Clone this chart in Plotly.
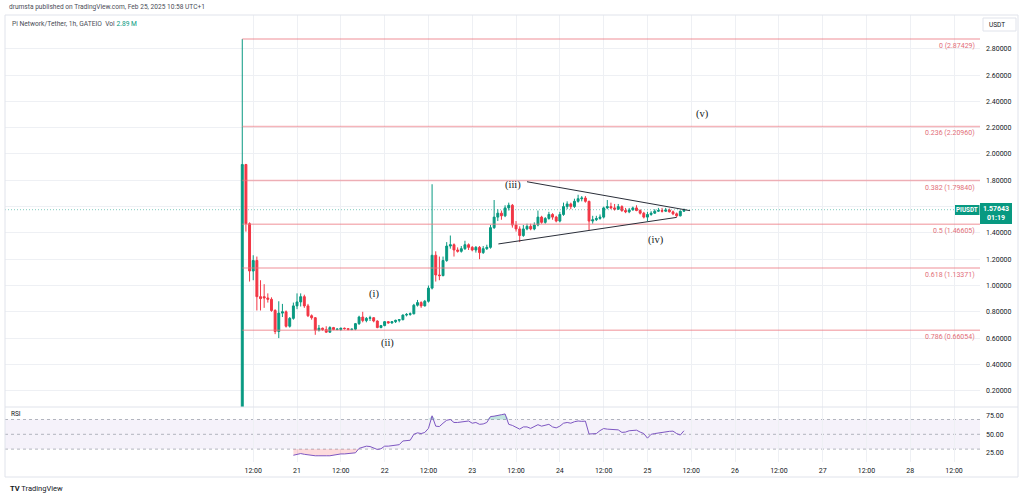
import pandas as pd
import plotly.graph_objects as go

# ---------------- data ----------------
first_bar = "2025-02-20 09:00"   # 1h candles, UTC+1
opens = [0.06, 1.92, 1.47, 1.11, 1.19, 0.915, 0.915, 0.905, 0.895, 0.81,
         0.65, 0.79, 0.80, 0.69, 0.75, 0.845, 0.875, 0.915, 0.845, 0.77,
         0.755, 0.66, 0.675, 0.665, 0.645, 0.68, 0.665, 0.665, 0.675, 0.672,
         0.665, 0.668, 0.71, 0.76, 0.733, 0.75, 0.755, 0.73, 0.68, 0.695,
         0.725, 0.715, 0.725, 0.735, 0.74, 0.775, 0.78, 0.785, 0.85, 0.87,
         0.845, 0.88, 0.98, 1.23, 1.08, 1.075, 1.19, 1.30, 1.31, 1.27,
         1.26, 1.28, 1.31, 1.29, 1.27, 1.29, 1.25, 1.28, 1.29, 1.44,
         1.52, 1.55, 1.53, 1.59, 1.61, 1.46, 1.43, 1.38, 1.43, 1.45,
         1.43, 1.46, 1.52, 1.48, 1.51, 1.54, 1.52, 1.49, 1.54, 1.60,
         1.62, 1.60, 1.64, 1.66, 1.665, 1.64, 1.49, 1.50, 1.51, 1.52,
         1.59, 1.60, 1.59, 1.58, 1.60, 1.57, 1.56, 1.575, 1.59, 1.57,
         1.55, 1.52, 1.54, 1.55, 1.565, 1.57, 1.565, 1.575, 1.56, 1.545,
         1.53, 1.565]
highs = [2.874, 1.925, 1.48, 1.23, 1.22, 1.04, 1.01, 0.94, 0.91, 0.82,
         0.88, 0.86, 0.81, 0.76, 0.87, 0.94, 0.94, 0.93, 0.86, 0.78,
         0.76, 0.70, 0.68, 0.69, 0.69, 0.685, 0.675, 0.68, 0.68, 0.675,
         0.672, 0.715, 0.77, 0.80, 0.76, 0.77, 0.76, 0.735, 0.70, 0.73,
         0.73, 0.73, 0.74, 0.745, 0.78, 0.79, 0.795, 0.86, 0.89, 0.88,
         0.89, 1.00, 1.77, 1.26, 1.22, 1.22, 1.33, 1.38, 1.32, 1.29,
         1.30, 1.34, 1.32, 1.30, 1.30, 1.30, 1.30, 1.31, 1.46, 1.65,
         1.58, 1.57, 1.61, 1.63, 1.62, 1.49, 1.45, 1.46, 1.47, 1.47,
         1.48, 1.57, 1.53, 1.52, 1.56, 1.55, 1.53, 1.56, 1.63, 1.64,
         1.63, 1.66, 1.69, 1.68, 1.68, 1.645, 1.53, 1.53, 1.54, 1.60,
         1.65, 1.63, 1.62, 1.62, 1.61, 1.59, 1.59, 1.60, 1.61, 1.58,
         1.56, 1.56, 1.565, 1.58, 1.59, 1.59, 1.59, 1.585, 1.57, 1.555,
         1.57, 1.585]
lows = [0.0578, 1.41, 1.03, 1.04, 0.81, 0.81, 0.83, 0.87, 0.80, 0.63,
        0.60, 0.76, 0.68, 0.68, 0.74, 0.82, 0.84, 0.83, 0.76, 0.74,
        0.625, 0.65, 0.655, 0.64, 0.64, 0.66, 0.66, 0.655, 0.665, 0.66,
        0.66, 0.66, 0.70, 0.72, 0.72, 0.73, 0.72, 0.675, 0.675, 0.69,
        0.71, 0.71, 0.715, 0.72, 0.735, 0.765, 0.77, 0.78, 0.84, 0.83,
        0.84, 0.87, 0.97, 1.03, 1.04, 1.07, 1.18, 1.28, 1.22, 1.25,
        1.25, 1.27, 1.27, 1.26, 1.25, 1.20, 1.24, 1.27, 1.28, 1.43,
        1.49, 1.50, 1.52, 1.57, 1.44, 1.41, 1.33, 1.37, 1.42, 1.42,
        1.42, 1.45, 1.47, 1.47, 1.50, 1.50, 1.48, 1.48, 1.53, 1.58,
        1.58, 1.59, 1.63, 1.64, 1.63, 1.42, 1.47, 1.49, 1.50, 1.51,
        1.58, 1.58, 1.57, 1.575, 1.56, 1.55, 1.55, 1.57, 1.565, 1.54,
        1.51, 1.49, 1.53, 1.545, 1.56, 1.555, 1.56, 1.555, 1.535, 1.52,
        1.525, 1.56]
closes = [1.92, 1.47, 1.11, 1.19, 0.915, 0.90, 0.905, 0.895, 0.81, 0.65,
          0.79, 0.80, 0.69, 0.75, 0.845, 0.875, 0.915, 0.845, 0.77, 0.755,
          0.66, 0.675, 0.665, 0.645, 0.68, 0.665, 0.668, 0.675, 0.672, 0.665,
          0.668, 0.71, 0.76, 0.733, 0.75, 0.755, 0.73, 0.68, 0.695, 0.725,
          0.715, 0.725, 0.735, 0.74, 0.775, 0.78, 0.785, 0.85, 0.87, 0.845,
          0.88, 0.98, 1.23, 1.08, 1.075, 1.19, 1.30, 1.31, 1.27, 1.26,
          1.28, 1.31, 1.29, 1.27, 1.29, 1.25, 1.28, 1.29, 1.44, 1.52,
          1.55, 1.53, 1.59, 1.61, 1.46, 1.43, 1.38, 1.43, 1.45, 1.43,
          1.46, 1.52, 1.48, 1.51, 1.54, 1.52, 1.49, 1.54, 1.60, 1.62,
          1.60, 1.64, 1.66, 1.665, 1.64, 1.49, 1.50, 1.51, 1.52, 1.59,
          1.60, 1.59, 1.58, 1.60, 1.57, 1.56, 1.575, 1.59, 1.57, 1.55,
          1.52, 1.54, 1.55, 1.565, 1.57, 1.565, 1.575, 1.56, 1.545, 1.53,
          1.565, 1.57643]

rsi_first = "2025-02-20 23:00"
rsi_values = [21.7, 23, 24, 23, 22, 21.5, 21, 21, 20.5, 21,
              21, 22, 22.5, 23.5, 23.5, 24, 24.5, 25, 31, 33,
              34, 33.5, 32, 29.5, 30.5, 34, 34, 35, 36, 36,
              41, 42, 42, 50, 52, 51, 52.5, 58, 75, 61,
              60.5, 65, 69, 70, 66, 66, 66.5, 67.5, 68, 65,
              66, 63.5, 64, 66, 74, 74.5, 75, 76.5, 77.5, 63.5,
              62, 60, 57, 60, 60, 58, 60, 63, 61, 62,
              63.5, 60, 58.7, 61, 65, 66, 65, 67, 68, 67.5,
              67.8, 50.4, 51, 51, 55, 57.8, 57, 56.5, 56.5, 56,
              52.6, 53, 54.8, 55.5, 55.6, 53, 51, 44.8, 50, 51,
              52, 52.6, 53.5, 54, 54.3, 51, 49, 54.8]

fib_ratios = ["0", "0.236", "0.382", "0.5", "0.618", "0.786"]
fib_prices = [2.87429, 2.20960, 1.79840, 1.46605, 1.13371, 0.66054]
fib_start = "2025-02-20 09:00"

last_price = 1.57643
price_ticks = [0.2, 0.4, 0.6, 0.8, 1.0, 1.2, 1.4, 1.6, 1.8, 2.0, 2.2, 2.4, 2.6, 2.8]
price_tick_labels = ["0.20000", "0.40000", "0.60000", "0.80000", "1.00000", "1.20000",
                     "1.40000", "", "1.80000", "2.00000", "2.20000", "2.40000",
                     "2.60000", "2.80000"]   # 1.60000 sits under the price tag
rsi_ticks = [25, 50, 75]
rsi_levels = [30, 50, 70]
time_tick_labels = ["12:00", "21", "12:00", "22", "12:00", "23", "12:00", "24",
                    "12:00", "25", "12:00", "26", "12:00", "27", "12:00", "28", "12:00"]

tri_upper_t = ["2025-02-23 15:00", "2025-02-25 11:40"]
tri_upper_p = [1.789, 1.569]
tri_lower_t = ["2025-02-23 07:10", "2025-02-25 08:00"]
tri_lower_p = [1.316, 1.518]

wave_labels = ["(i)", "(ii)", "(iii)", "(iv)", "(v)"]
wave_times = ["2025-02-21 21:06", "2025-02-22 00:54", "2025-02-23 11:12",
              "2025-02-25 02:18", "2025-02-25 15:12"]
wave_prices = [0.935, 0.565, 1.764, 1.346, 2.304]

# ---------------- styling / geometry ----------------
W, H = 1024, 497
GREEN = "#089981"
RED = "#F23645"
FIB = "rgba(236,120,130,0.55)"
FIBTXT = "rgb(226,110,120)"
GRID = "#eef0f4"
TXT = "#131722"
FONT = "Roboto"

def px(x):
    return x / W

def py(y):
    return 1 - y / H

t0 = pd.Timestamp("2025-02-20 00:00")
x_range = [t0 + pd.Timedelta(hours=-56.0), t0 + pd.Timedelta(hours=211.1)]
main_dom = [py(407), py(15)]
rsi_dom = [py(462), py(407)]

times = pd.date_range(first_bar, periods=len(opens), freq="h")
rsi_times = pd.date_range(rsi_first, periods=len(rsi_values), freq="h")
tick_times = pd.date_range("2025-02-20 12:00", periods=len(time_tick_labels), freq="12h")

fig = go.Figure()

# fibonacci levels
for r, p in zip(fib_ratios, fib_prices):
    fig.add_trace(go.Scatter(x=[pd.Timestamp(fib_start), x_range[1]], y=[p, p], mode="lines",
                             line=dict(color=FIB, width=1.5), hoverinfo="skip",
                             showlegend=False, xaxis="x", yaxis="y"))

# last price dotted line
fig.add_trace(go.Scatter(x=x_range, y=[last_price, last_price], mode="lines",
                         line=dict(color="rgba(8,153,129,0.5)", width=1, dash="1px,2px"),
                         hoverinfo="skip", showlegend=False, xaxis="x", yaxis="y"))

# candles
fig.add_trace(go.Candlestick(
    x=times, open=opens, high=highs, low=lows, close=closes,
    increasing=dict(line=dict(color=GREEN, width=1), fillcolor=GREEN),
    decreasing=dict(line=dict(color=RED, width=1), fillcolor=RED),
    whiskerwidth=0, hoverinfo="skip", showlegend=False, xaxis="x", yaxis="y"))

# triangle
for tx, tp in [(tri_upper_t, tri_upper_p), (tri_lower_t, tri_lower_p)]:
    fig.add_trace(go.Scatter(x=tx, y=tp, mode="lines", line=dict(color="#2a2e39", width=1),
                             hoverinfo="skip", showlegend=False, xaxis="x", yaxis="y"))

# RSI fills
ob = [max(v, 70) for v in rsi_values]
os_ = [min(v, 30) for v in rsi_values]
fig.add_trace(go.Scatter(x=rsi_times, y=[70] * len(rsi_values), mode="lines", line=dict(width=0),
                         hoverinfo="skip", showlegend=False, xaxis="x", yaxis="y2"))
fig.add_trace(go.Scatter(x=rsi_times, y=ob, mode="lines", line=dict(width=0), fill="tonexty",
                         fillcolor="rgba(8,153,129,0.25)", hoverinfo="skip", showlegend=False,
                         xaxis="x", yaxis="y2"))
fig.add_trace(go.Scatter(x=rsi_times, y=[30] * len(rsi_values), mode="lines", line=dict(width=0),
                         hoverinfo="skip", showlegend=False, xaxis="x", yaxis="y2"))
fig.add_trace(go.Scatter(x=rsi_times, y=os_, mode="lines", line=dict(width=0), fill="tonexty",
                         fillcolor="rgba(242,54,69,0.18)", hoverinfo="skip", showlegend=False,
                         xaxis="x", yaxis="y2"))
fig.add_trace(go.Scatter(x=rsi_times, y=rsi_values, mode="lines",
                         line=dict(color="#7E57C2", width=1), hoverinfo="skip",
                         showlegend=False, xaxis="x", yaxis="y2"))

shapes = []
# RSI band
shapes.append(dict(type="rect", xref="x domain", yref="y2", x0=0, x1=1, y0=30, y1=70,
                   fillcolor="rgba(126,87,194,0.08)", line=dict(width=0), layer="below"))
for lv in rsi_levels:
    shapes.append(dict(type="line", xref="x domain", yref="y2", x0=0, x1=1, y0=lv, y1=lv,
                       line=dict(color="#b2b5be", width=1, dash="3px,3px"), layer="below"))
# pane separator and frame
shapes.append(dict(type="line", xref="paper", yref="paper", x0=px(5), x1=px(1018),
                   y0=py(407), y1=py(407), line=dict(color="#e0e3eb", width=1)))
shapes.append(dict(type="rect", xref="paper", yref="paper", x0=px(5), x1=px(1018),
                   y0=py(477), y1=py(15), line=dict(color="#e0e3eb", width=1)))
# USDT box
shapes.append(dict(type="rect", xref="paper", yref="paper", x0=px(983), x1=px(1016),
                   y0=py(31), y1=py(18), line=dict(color="#e0e3eb", width=1), fillcolor="white"))
# price tags
shapes.append(dict(type="rect", xref="paper", yref="paper", x0=px(955), x1=px(979.5),
                   y0=py(215), y1=py(205), line=dict(width=0), fillcolor=GREEN))
shapes.append(dict(type="rect", xref="paper", yref="paper", x0=px(980), x1=px(1012),
                   y0=py(224), y1=py(203), line=dict(width=0), fillcolor=GREEN))

ann = []
for r, p in zip(fib_ratios, fib_prices):
    ann.append(dict(xref="paper", yref="y", x=px(977), y=p, yshift=-7, xanchor="right",
                    yanchor="middle", text=f"{r} ({p:.5f})", showarrow=False,
                    font=dict(family=FONT, size=7, color=FIBTXT)))
for lab, tt, pp in zip(wave_labels, wave_times, wave_prices):
    ann.append(dict(xref="x", yref="y", x=tt, y=pp, text=lab, showarrow=False,
                    xanchor="center", yanchor="middle",
                    font=dict(family="Liberation Serif", size=10.5, color=TXT)))
ann.append(dict(xref="paper", yref="paper", x=px(7), y=py(7), xanchor="left", yanchor="middle",
                text="drumsta published on TradingView.com, Feb 25, 2025 10:58 UTC+1",
                showarrow=False, font=dict(family=FONT, size=6.6, color="#4a4d57")))
ann.append(dict(xref="paper", yref="paper", x=px(10), y=py(24), xanchor="left", yanchor="middle",
                text="Pi Network/Tether, 1h, GATEIO  Vol <span style='color:#089981'>2.89 M</span>",
                showarrow=False, font=dict(family=FONT, size=6.7, color="#4a4d57")))
ann.append(dict(xref="paper", yref="paper", x=px(987), y=py(24.5), xanchor="left", yanchor="middle",
                text="USDT", showarrow=False, font=dict(family=FONT, size=6.5, color=TXT)))
ann.append(dict(xref="paper", yref="paper", x=px(967), y=py(210), xanchor="center", yanchor="middle",
                text="<b>PIUSDT</b>", showarrow=False, font=dict(family=FONT, size=6.3, color="white")))
ann.append(dict(xref="paper", yref="paper", x=px(996), y=py(209), xanchor="center", yanchor="middle",
                text="<b>1.57643</b>", showarrow=False, font=dict(family=FONT, size=7, color="white")))
ann.append(dict(xref="paper", yref="paper", x=px(996), y=py(218), xanchor="center", yanchor="middle",
                text="<b>01:19</b>", showarrow=False, font=dict(family=FONT, size=7, color="white")))
ann.append(dict(xref="paper", yref="paper", x=px(9), y=py(414), xanchor="left", yanchor="middle",
                text="RSI", showarrow=False, font=dict(family=FONT, size=6.5, color=TXT)))
ann.append(dict(xref="paper", yref="paper", x=px(8), y=py(488), xanchor="left", yanchor="middle",
                text="<b>TV</b> TradingView", showarrow=False,
                font=dict(family=FONT, size=7.5, color=TXT)))

fig.update_layout(
    width=W, height=H, margin=dict(l=0, r=0, t=0, b=0),
    paper_bgcolor="white", plot_bgcolor="white", showlegend=False,
    boxgap=0.25,
    xaxis=dict(domain=[px(5), px(980)], range=x_range, anchor="y2",
               tickvals=list(tick_times), ticktext=time_tick_labels,
               showgrid=True, gridcolor=GRID, gridwidth=1, zeroline=False, showline=False,
               ticks="", tickfont=dict(family=FONT, size=7, color=TXT),
               ticklabelstandoff=3, rangeslider=dict(visible=False), fixedrange=True),
    yaxis=dict(domain=main_dom, range=[0.076, 3.057], side="right", anchor="x",
               tickvals=price_ticks, ticktext=price_tick_labels,
               showgrid=True, gridcolor=GRID, zeroline=False, showline=False, ticks="",
               tickfont=dict(family=FONT, size=7, color=TXT), ticklabelstandoff=5),
    yaxis2=dict(domain=rsi_dom, range=[12.6, 86.9], side="right", anchor="x",
                tickvals=rsi_ticks, ticktext=[f"{v:.2f}" for v in rsi_ticks],
                showgrid=False, zeroline=False, showline=False, ticks="",
                tickfont=dict(family=FONT, size=7, color=TXT), ticklabelstandoff=5),
    shapes=shapes, annotations=ann,
)

fig.write_html("out.html", config={"displayModeBar": False},
               post_script="document.body.style.margin='0';document.body.style.overflow='hidden';")
